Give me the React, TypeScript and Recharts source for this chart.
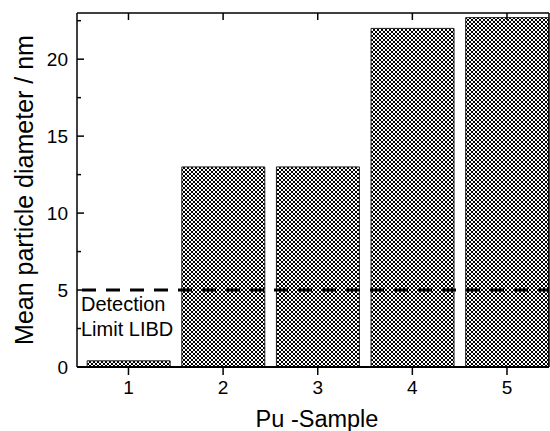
import React from 'react'
import { ComposedChart, Bar, Line, XAxis, YAxis, ReferenceLine } from 'recharts'

// Pu samples and mean particle diameters (nm)
const samples = [1, 2, 3, 4, 5]
const diameters = [0.4, 13, 13, 22, 22.7]
const detectionLimit = 5

const majorTicks = [0, 5, 10, 15, 20]
const yTicks = [0, 2.5, 5, 7.5, 10, 12.5, 15, 17.5, 20, 22.5]

const data = samples.map((s, i) => ({ sample: s, d: diameters[i] }))

const FONT = '"Liberation Sans", Arial, Helvetica, sans-serif'
const X_DOMAIN = [0.456, 5.444]
const Y_DOMAIN = [0, 23]
const Y_TICK_MARGIN = 9

// left axis: label outside, tick mark pointing into the plot
function YTick(props: any) {
  const { x, y, payload } = props
  const major = majorTicks.includes(payload.value)
  const ax = x + Y_TICK_MARGIN
  return (
    <g>
      <line x1={ax} x2={ax + (major ? 7 : 4)} y1={y} y2={y} stroke="#000" strokeWidth={1.5} />
      {major && (
        <text x={x} y={y} dy="0.35em" textAnchor="end" fontSize={19} fill="#000" fontFamily={FONT}>
          {payload.value}
        </text>
      )}
    </g>
  )
}

// top frame: inward tick marks only
function TopTick(props: any) {
  const { x, y } = props
  return <line x1={x} x2={x} y1={y} y2={y + 7} stroke="#000" strokeWidth={1.5} />
}

const NoLabel = () => <g />

function DetectionLabel(props: any) {
  const vb = props.viewBox || { x: 0, y: 0 }
  return (
    <g>
      <text x={vb.x + 4} y={vb.y + 20.5} fontSize={20} fill="#000" fontFamily={FONT}>
        Detection
      </text>
      <text x={vb.x + 4} y={vb.y + 45.5} fontSize={20} fill="#000" fontFamily={FONT}>
        Limit LIBD
      </text>
    </g>
  )
}

export default function App() {
  return (
    <div style={{ position: 'absolute', left: 0, top: 0, width: 550, height: 431, background: '#fff' }}>
      <ComposedChart
        width={550}
        height={431}
        data={data}
        margin={{ top: 12, right: 0, left: 17, bottom: 34 }}
        style={{ fontFamily: FONT }}
      >
        <defs>
          <pattern id="hatch" patternUnits="userSpaceOnUse" width={4} height={4}>
            <rect width={4} height={4} fill="#fff" />
            <path d="M0,0 L4,4 M4,0 L0,4" stroke="#000" strokeWidth={1} />
          </pattern>
        </defs>

        <XAxis
          dataKey="sample"
          type="number"
          domain={X_DOMAIN}
          allowDataOverflow
          ticks={samples}
          interval={0}
          height={30}
          tickSize={8}
          tickMargin={6}
          tick={{ fill: '#000', fontSize: 19 }}
          tickLine={{ stroke: '#000', strokeWidth: 1.5 }}
          axisLine={{ stroke: '#000', strokeWidth: 2 }}
          label={{ value: 'Pu -Sample', position: 'bottom', offset: 13, dx: 4, style: { fontSize: 23.5, fill: '#000' } }}
        />
        <XAxis
          xAxisId="top"
          dataKey="sample"
          orientation="top"
          type="number"
          domain={X_DOMAIN}
          allowDataOverflow
          ticks={samples}
          interval={0}
          height={1}
          tickSize={0}
          tickMargin={0}
          tickLine={false}
          tick={TopTick}
          axisLine={{ stroke: '#000', strokeWidth: 1.5 }}
        />
        <YAxis
          type="number"
          domain={Y_DOMAIN}
          allowDataOverflow
          ticks={yTicks}
          interval={0}
          width={60}
          tickSize={0}
          tickMargin={Y_TICK_MARGIN}
          tickLine={false}
          tick={YTick}
          axisLine={{ stroke: '#000', strokeWidth: 1.5 }}
          label={{
            value: 'Mean particle diameter / nm',
            angle: -90,
            position: 'insideLeft',
            offset: 7,
            style: { textAnchor: 'middle', fontSize: 25, fill: '#000' },
          }}
        />
        <YAxis
          yAxisId="right"
          orientation="right"
          type="number"
          domain={Y_DOMAIN}
          allowDataOverflow
          ticks={[0]}
          width={1}
          tick={NoLabel}
          tickLine={false}
          axisLine={{ stroke: '#000', strokeWidth: 1.5 }}
        />

        <Bar
          dataKey="d"
          barSize={83}
          fill="url(#hatch)"
          stroke="#222"
          strokeWidth={1}
          isAnimationActive={false}
        />
        {/* invisible series so the frame axes get their scales */}
        <Line xAxisId="top" yAxisId="right" dataKey="d" stroke="none" dot={false} activeDot={false} isAnimationActive={false} />
        <ReferenceLine
          y={detectionLimit}
          stroke="#000"
          strokeWidth={3}
          strokeDasharray="14 10"
          strokeDashoffset={-5}
          label={<DetectionLabel />}
        />
      </ComposedChart>
    </div>
  )
}
